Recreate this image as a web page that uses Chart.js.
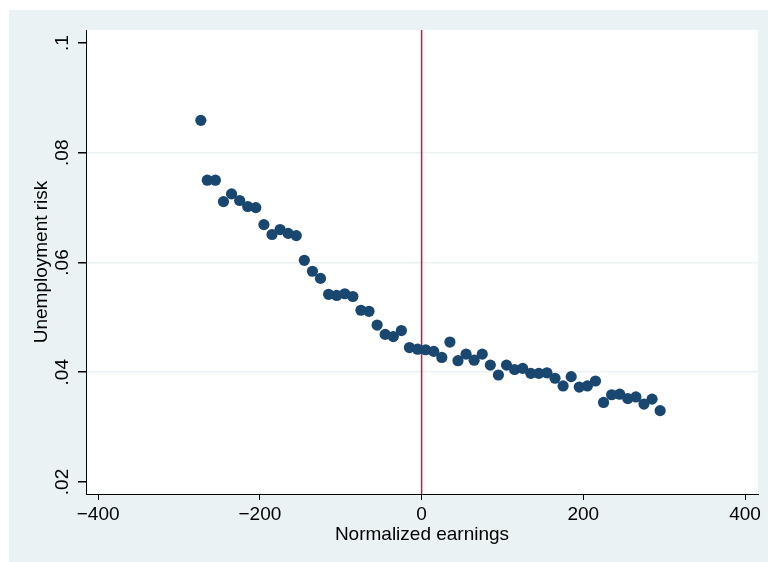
<!DOCTYPE html>
<html>
<head>
<meta charset="utf-8">
<script src="https://cdn.jsdelivr.net/npm/chart.js@4/dist/chart.umd.min.js"></script>
<style>
  html, body { margin: 0; padding: 0; background: #fff; }
  #wrap { width: 768px; height: 562px; position: relative; }
</style>
</head>
<body>
<div id="wrap"><canvas id="riskChart" width="768" height="562"></canvas></div>
<script>
// binned earnings (x) and unemployment risk (y)
const earnings = [-273, -265, -255, -245, -235, -225, -215, -205, -195, -185,
    -175, -165, -155, -145, -135, -125, -115, -105, -95, -85,
    -75, -65, -55, -45, -35, -25, -15, -5, 5, 15,
    25, 35, 45, 55, 65, 75, 85, 95, 105, 115,
    125, 135, 145, 155, 165, 175, 185, 195, 205, 215,
    225, 235, 245, 255, 265, 275, 285, 295]
const risk = [.0859, .0750, .0750, .0711, .0725, .0713, .0702, .0700, .0669, .0651,
    .0660, .0653, .0649, .0604, .0584, .0571, .0542, .0540, .0543, .0538,
    .0513, .0511, .0486, .0469, .0465, .0476, .0445, .0442, .0441, .0438,
    .0427, .0455, .0421, .0433, .0422, .0433, .0413, .0395, .0413, .0405,
    .0407, .0398, .0398, .0399, .0389, .0375, .0392, .0373, .0375, .0384,
    .0345, .0359, .0360, .0352, .0355, .0342, .0351, .0330]

// vertical cutoff line at zero
const cutoffX = [0, 0]
const cutoffY = [0.0178, 0.1024]

const xTicks = [-400, -200, 0, 200, 400]
const yTicks = [0.02, 0.04, 0.06, 0.08, 0.1]
const yTickLabels = ['.02', '.04', '.06', '.08', '.1']
const yGrid = [0.04, 0.06, 0.08]

const font = "'Liberation Sans', Arial, sans-serif"

const bgPlugin = {
    id: 'bg',
    beforeDraw(chart) {
        const c = chart.ctx
        const a = chart.chartArea
        c.save()
        c.fillStyle = '#EAF2F3'
        c.fillRect(9, 10, 759, 552)
        c.fillStyle = '#fff'
        c.fillRect(a.left, a.top, a.right - a.left, a.bottom - a.top)
        c.restore()
    },
    afterDraw(chart) {
        // y tick labels are rotated like Stata
        const c = chart.ctx
        const y = chart.scales.y
        c.save()
        c.fillStyle = '#000'
        c.font = '19px ' + font
        c.textAlign = 'center'
        c.textBaseline = 'middle'
        yTicks.forEach((v, i) => {
            c.save()
            c.translate(63, y.getPixelForValue(v))
            c.rotate(-Math.PI / 2)
            c.fillText(yTickLabels[i], 0, 0)
            c.restore()
        })
        c.restore()
    }
}

new Chart(document.getElementById('riskChart'), {
    type: 'scatter',
    data: {
        datasets: [
            {
                data: earnings.map((x, i) => ({x: x, y: risk[i]})),
                backgroundColor: '#1A476F',
                borderWidth: 0,
                pointRadius: 5.6,
                order: 1
            },
            {
                type: 'line',
                data: cutoffX.map((x, i) => ({x: x, y: cutoffY[i]})),
                borderColor: '#CC1247',
                borderWidth: 1.5,
                pointRadius: 0,
                order: 2
            }
        ]
    },
    plugins: [bgPlugin],
    options: {
        responsive: false,
        animation: false,
        devicePixelRatio: 1,
        layout: { padding: { left: 9, top: 30, right: 10, bottom: 0 } },
        plugins: { legend: { display: false }, tooltip: { enabled: false } },
        scales: {
            x: {
                type: 'linear',
                min: -415,
                max: 416,
                afterBuildTicks: s => { s.ticks = xTicks.map(v => ({value: v})) },
                afterFit: s => { s.height = 68 },
                grid: { display: true, drawOnChartArea: false, tickLength: 6, tickColor: '#000' },
                border: { display: true, color: '#000', width: 1 },
                ticks: {
                    color: '#000',
                    padding: 3,
                    maxRotation: 0,
                    font: { family: font, size: 19 },
                    callback: v => String(v).replace('-', '\u2212')
                },
                title: {
                    display: true,
                    text: 'Normalized earnings',
                    color: '#000',
                    font: { family: font, size: 19 },
                    padding: { top: 0, bottom: 16 }
                }
            },
            y: {
                type: 'linear',
                min: 0.01781,
                max: 0.10237,
                afterBuildTicks: s => { s.ticks = yTicks.map(v => ({value: v})) },
                afterFit: s => { s.width = 77 },
                grid: {
                    color: c => yGrid.includes(c.tick && c.tick.value) ? '#EAF2F3' : 'rgba(0,0,0,0)',
                    lineWidth: 1.5,
                    tickLength: 8,
                    tickColor: '#000'
                },
                border: { display: true, color: '#000', width: 1 },
                ticks: { color: 'rgba(0,0,0,0)', font: { family: font, size: 19 } },
                title: {
                    display: true,
                    text: 'Unemployment risk',
                    color: '#000',
                    font: { family: font, size: 19 },
                    padding: { top: 21, bottom: 0 }
                }
            }
        }
    }
})
</script>
</body>
</html>
